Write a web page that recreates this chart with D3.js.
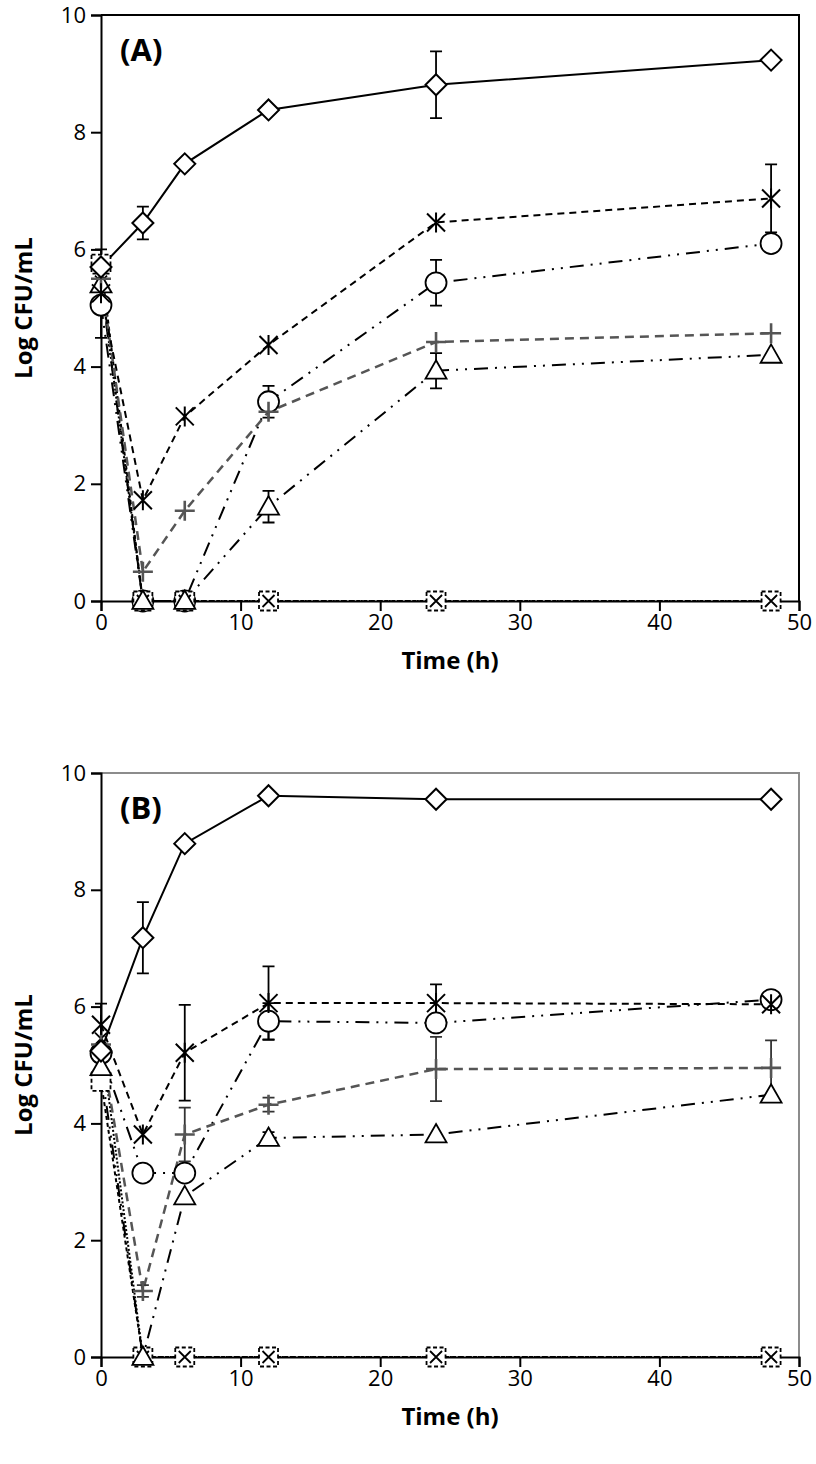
<!DOCTYPE html>
<html><head><meta charset="utf-8">
<script src="https://cdn.jsdelivr.net/npm/d3@7"></script>
<style>body{margin:0;background:#fff}svg{display:block}</style>
</head><body>
<script>
// ---------- DATA ----------
const times = [0, 3, 6, 12, 24, 48];
const xTicks = [0, 10, 20, 30, 40, 50];
const yTicks = [0, 2, 4, 6, 8, 10];
const panelLabels = ["(A)", "(B)"];
const xTitle = "Time (h)";
const yTitle = "Log CFU/mL";

// Panel A
const diamondA = [5.70, 6.45, 7.46, 8.38, 8.81, 9.23];
const diamondAErr = [0.30, 0.28, 0, 0, 0.57, 0];
const asteriskA = [5.25, 1.72, 3.15, 4.37, 6.46, 6.87];
const asteriskAErr = [0, 0, 0, 0, 0, 0.58];
const circleA = [5.05, 0, 0, 3.40, 5.43, 6.10];
const circleAErr = [0.56, 0, 0, 0.27, 0.39, 0];
const plusA = [5.50, 0.50, 1.54, 3.23, 4.42, 4.57];
const plusAErr = [0, 0, 0, 0, 0, 0];
const triangleA = [5.40, 0, 0, 1.61, 3.93, 4.20];
const triangleAErr = [0, 0, 0, 0.27, 0.30, 0];
const squareA = [5.75, 0, 0, 0, 0, 0];
const crossA = [5.45, 0, 0, 0, 0, 0];

// Panel B
const diamondB = [5.24, 7.18, 8.79, 9.61, 9.55, 9.55];
const diamondBErr = [0, 0.61, 0, 0, 0, 0];
const asteriskB = [5.69, 3.81, 5.21, 6.06, 6.06, 6.04];
const asteriskBErr = [0.36, 0, 0.82, 0.63, 0.32, 0];
const circleB = [5.20, 3.15, 3.15, 5.75, 5.72, 6.12];
const circleBErr = [0, 0, 0, 0.31, 0, 0];
const plusB = [5.35, 1.13, 3.81, 4.32, 4.93, 4.95];
const plusBErr = [0, 0.10, 0.46, 0.12, 0.55, 0.47];
const triangleB = [4.96, 0, 2.75, 3.75, 3.81, 4.49];
const triangleBErr = [0, 0, 0, 0.10, 0, 0];
const squareB = [4.72, 0, 0, 0, 0, 0];
const crossB = [5.45, 0, 0, 0, 0, 0];

// ---------- STYLES ----------
const styles = {
  square:   {color: "#000", dash: "4,3", width: 2, marker: "square"},
  cross:    {color: "#000", dash: "2,2", width: 2, marker: "cross"},
  triangle: {color: "#000", dash: "14,7,2,7,2,7", width: 2, marker: "triangle"},
  circle:   {color: "#000", dash: "14,7,2,7,2,7", width: 2, marker: "circle"},
  plus:     {color: "#555", dash: "9,6", width: 2.5, marker: "plus"},
  asterisk: {color: "#000", dash: "7,5", width: 2, marker: "asterisk"},
  diamond:  {color: "#000", dash: null, width: 2, marker: "diamond"}
};
// order in which markers are stacked (last on top)
const markerOrder = ["circle", "square", "cross", "triangle", "plus", "asterisk", "diamond"];

const panels = [
  {label: panelLabels[0], top: 15, bottom: 601, frame: "#000",
   series: [
     {k: "square", v: squareA, e: null},
     {k: "cross", v: crossA, e: null},
     {k: "triangle", v: triangleA, e: triangleAErr},
     {k: "circle", v: circleA, e: circleAErr},
     {k: "plus", v: plusA, e: plusAErr},
     {k: "asterisk", v: asteriskA, e: asteriskAErr},
     {k: "diamond", v: diamondA, e: diamondAErr}
   ]},
  {label: panelLabels[1], top: 773, bottom: 1357, frame: "#8c8c8c",
   series: [
     {k: "square", v: squareB, e: null},
     {k: "cross", v: crossB, e: null},
     {k: "triangle", v: triangleB, e: triangleBErr},
     {k: "circle", v: circleB, e: circleBErr},
     {k: "plus", v: plusB, e: plusBErr},
     {k: "asterisk", v: asteriskB, e: asteriskBErr},
     {k: "diamond", v: diamondB, e: diamondBErr}
   ]}
];

const W = 816, H = 1464;
const left = 101, right = 799;
const font = "'Open Sans', 'Liberation Sans', sans-serif";

const svg = d3.select("body").append("svg").attr("width", W).attr("height", H)
  .style("font-family", font);

function markerPath(type, r) {
  switch (type) {
    case "diamond": return `M0,${-r}L${r},0L0,${r}L${-r},0Z`;
    case "square": return `M${-r},${-r}H${r}V${r}H${-r}Z`;
    case "triangle": return `M0,${-r}L${r},${r*0.75}L${-r},${r*0.75}Z`;
    default: return "";
  }
}

function drawMarker(g, type, cx, cy, st) {
  const m = g.append("g").attr("transform", `translate(${cx},${cy})`);
  if (type === "diamond") {
    m.append("path").attr("d", markerPath("diamond", 10.5)).attr("fill", "#fff")
      .attr("stroke", "#000").attr("stroke-width", 2);
  } else if (type === "circle") {
    m.append("circle").attr("r", 10.5).attr("fill", "#fff").attr("stroke", "#000").attr("stroke-width", 1.8);
  } else if (type === "triangle") {
    m.append("path").attr("d", markerPath("triangle", 10.5)).attr("fill", "#fff")
      .attr("stroke", "#000").attr("stroke-width", 1.8);
  } else if (type === "square") {
    m.append("path").attr("d", markerPath("square", 9.5)).attr("fill", "#fff")
      .attr("stroke", "#000").attr("stroke-width", 1.8).attr("stroke-dasharray", "4,2.5");
  } else if (type === "cross") {
    m.append("path").attr("d", "M-6,-6L6,6M-6,6L6,-6").attr("stroke", "#000").attr("stroke-width", 1.8);
  } else if (type === "plus") {
    m.append("path").attr("d", "M-10,0H10M0,-10V10").attr("stroke", st.color).attr("stroke-width", 2.6);
  } else if (type === "asterisk") {
    m.append("path").attr("d", "M-9,-9L9,9M-9,9L9,-9M0,-10V10").attr("stroke", "#000").attr("stroke-width", 2);
  }
}

const x = d3.scaleLinear().domain([0, 50]).range([left, right]);

panels.forEach(p => {
  const y = d3.scaleLinear().domain([0, 10]).range([p.bottom, p.top]);
  const g = svg.append("g");

  // frame (top & right)
  g.append("path").attr("d", `M${left},${p.top}H${right}V${p.bottom}`)
    .attr("fill", "none").attr("stroke", p.frame).attr("stroke-width", 2);

  // axes
  const xAxis = d3.axisBottom(x).tickValues(xTicks).tickSize(10).tickPadding(3).tickFormat(d3.format("d"));
  const gx = g.append("g").attr("transform", `translate(0,${p.bottom})`).call(xAxis);
  const yAxis = d3.axisLeft(y).tickValues(yTicks).tickSize(10).tickPadding(5).tickFormat(d3.format("d"));
  const gy = g.append("g").attr("transform", `translate(${left},0)`).call(yAxis);
  [gx, gy].forEach(a => {
    a.select(".domain").attr("stroke", "#000").attr("stroke-width", 2);
    a.selectAll(".tick line").attr("stroke", "#000").attr("stroke-width", 2);
    a.selectAll(".tick text").attr("font-size", 22).attr("fill", "#000").attr("font-family", font);
  });

  // titles
  g.append("text").attr("x", (left + right) / 2).attr("y", p.bottom + 68)
    .attr("text-anchor", "middle").attr("font-size", 24).attr("font-weight", "bold").text(xTitle);
  g.append("text").attr("transform", `translate(32,${(p.top + p.bottom) / 2}) rotate(-90)`)
    .attr("text-anchor", "middle").attr("font-size", 24).attr("font-weight", "bold").text(yTitle);
  g.append("text").attr("x", 120).attr("y", p.top + 46)
    .attr("font-size", 31).attr("font-weight", "bold").text(p.label);

  // lines
  p.series.forEach(s => {
    const st = styles[s.k];
    const line = d3.line().x((d, i) => x(times[i])).y(d => y(d));
    g.append("path").datum(s.v).attr("d", line).attr("fill", "none")
      .attr("stroke", st.color).attr("stroke-width", st.width)
      .attr("stroke-dasharray", st.dash);
  });
  // error bars
  p.series.forEach(s => {
    if (!s.e) return;
    s.v.forEach((v, i) => {
      const e = s.e[i];
      if (!e) return;
      const cx = x(times[i]);
      const y1 = y(v + e), y2 = y(v - e);
      const col = s.k === "plus" ? "#333" : "#000";
      g.append("path").attr("d", `M${cx},${y1}V${y2}M${cx-6},${y1}H${cx+6}M${cx-6},${y2}H${cx+6}`)
        .attr("stroke", col).attr("stroke-width", 1.8).attr("fill", "none");
    });
  });
  // markers
  markerOrder.forEach(k => {
    p.series.filter(s => s.k === k).forEach(s => {
      const st = styles[s.k];
      s.v.forEach((v, i) => drawMarker(g, st.marker, x(times[i]), y(v), st));
    });
  });
});
</script>
</body></html>
